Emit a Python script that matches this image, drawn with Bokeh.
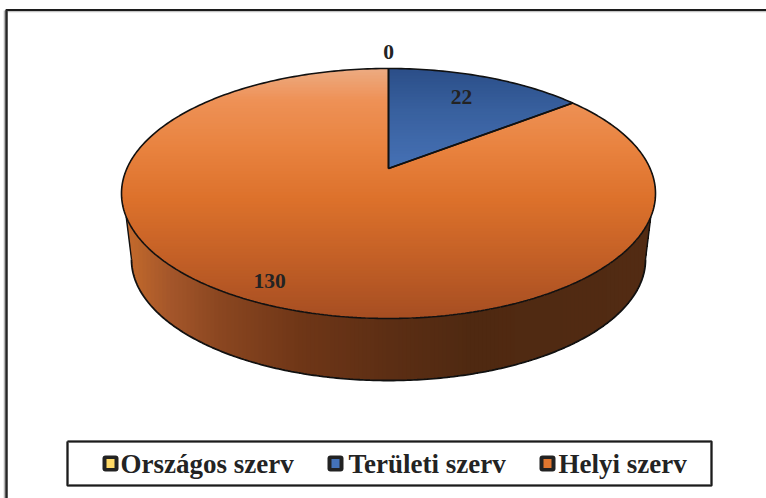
import numpy as np
from bokeh.plotting import figure
from bokeh.models import Range1d
from bokeh.core.properties import value
from bokeh.embed import file_html
from bokeh.resources import INLINE

categories = ["Országos szerv", "Területi szerv", "Helyi szerv"]
values = [0, 22, 130]
labels = ["0", "22", "130"]

# layout / style
CX, CY, RX, RY = 388.0, 193.0, 267.0, 125.0     # top ellipse
AX, AY = 388.0, 168.0                            # apex of the slices
BCY, BRX, BRY = 259.0, 257.0, 121.0              # bottom ellipse
K = 0.742                                        # perspective squeeze of angles
label_xy = [(388, 51), (461, 96), (269, 280)]
legend_marker_x = [110, 335, 547]
legend_text_x = [120, 348, 558]
legend_swatch = ["#FFD966", "#4472B8", "#E0762F"]
INK = "#111111"
TEXT = "#232323"
W, H = 766, 498


def hex2rgb(h):
    return np.array([int(h[i:i + 2], 16) for i in (1, 3, 5)], float)


def ramp(t, stops):
    pos = [s[0] for s in stops]
    cols = np.array([hex2rgb(s[1]) for s in stops])
    c = [np.interp(t, pos, cols[:, i]) for i in range(3)]
    return "#%02x%02x%02x" % tuple(int(round(v)) for v in c)


def clip(poly, axis, limit):
    """Keep the part of a polygon with coord[axis] >= limit."""
    out = []
    n = len(poly)
    for i in range(n):
        a, b = poly[i], poly[(i + 1) % n]
        ia, ib = a[axis] >= limit, b[axis] >= limit
        if ia:
            out.append(a)
        if ia != ib:
            t = (limit - a[axis]) / (b[axis] - a[axis])
            out.append((a[0] + t * (b[0] - a[0]), a[1] + t * (b[1] - a[1])))
    return out


def add_bands(p, poly, axis, start, stop, step, stops):
    xs, ys, cs = [], [], []
    for v in np.arange(start, stop, step):
        c = clip(poly, axis, v)
        if len(c) < 3:
            continue
        xs.append([q[0] for q in c])
        ys.append([q[1] for q in c])
        cs.append(ramp(v + step / 2, stops))
    p.patches(xs, ys, fill_color=cs, line_color=None)


def phi(theta):
    return np.unwrap(np.arctan2(K * np.sin(theta), np.cos(theta)))


p = figure(width=W, height=H, x_range=Range1d(0, W), y_range=Range1d(H, 0),
           output_backend="svg", toolbar_location=None, min_border=0,
           background_fill_color="white",
           border_fill_color="white", outline_line_color=None)
p.axis.visible = False
p.grid.visible = False

# frame: only top and left are drawn in the reference
p.line([7.5, W], [11, 11], line_color="#c4c4c4", line_width=1.5)
p.line([4, 4], [10, H], line_color="#b5b5b5", line_width=1.5)
p.line([5.5, W], [9.5, 9.5], line_color="#1c1c1c", line_width=2)
p.line([6, 6], [9, H], line_color="#262626", line_width=2.5)

# side wall
t = np.linspace(np.pi * 0.56, np.pi * 1.44, 240)   # clockwise-from-top param along front
top_x = CX + RX * np.sin(t)
top_y = CY - RY * np.cos(t)
t2 = np.linspace(np.pi * 1.5, np.pi * 0.5, 240)
bot_x = CX + BRX * np.sin(t2)
bot_y = BCY - BRY * np.cos(t2)
wall = list(zip(top_x, top_y)) + list(zip(bot_x, bot_y))
wall_stops = [(124, "#C66B2C"), (170, "#A4562A"), (220, "#8A4620"), (300, "#6F3617"),
              (390, "#5C2E14"), (470, "#4F2911"), (650, "#522B13")]
add_bands(p, wall, 0, 122, 656, 4, wall_stops)

# top face
orange_stops = [(68, "#EDAB82"), (100, "#EE9156"), (150, "#E8823E"), (200, "#DC712B"),
                (260, "#C25F26"), (318, "#A64E22")]
blue_stops = [(68, "#2B4E88"), (110, "#38609E"), (168, "#4671B5")]
total = sum(values)
edges = np.cumsum([0] + values) / total * 2 * np.pi
draw_order = [2, 1, 0]
outlines = []
for i in draw_order:
    a0, a1 = edges[i], edges[i + 1]
    if a1 - a0 <= 0:
        continue
    th = np.linspace(a0, a1, 200)
    ph = phi(th)
    if ph[0] < -1e-9:
        ph = ph + 2 * np.pi
    ax = CX + RX * np.sin(ph)
    ay = CY - RY * np.cos(ph)
    poly = [(AX, AY)] + list(zip(ax, ay))
    stops = blue_stops if i == 1 else orange_stops
    add_bands(p, poly, 1, 66, 320, 3, stops)
    outlines.append(([AX, ax[0]], [AY, ay[0]]))
    outlines.append(([AX, ax[-1]], [AY, ay[-1]]))

# outlines
tt = np.linspace(0, 2 * np.pi, 400)
p.line(list(bot_x), list(bot_y), line_color=INK, line_width=1.8)
p.line([top_x[0], bot_x[-1]], [top_y[0], bot_y[-1]], line_color=INK, line_width=1.4)
p.line([top_x[-1], bot_x[0]], [top_y[-1], bot_y[0]], line_color=INK, line_width=1.4)
p.line(CX + RX * np.sin(tt), CY - RY * np.cos(tt), line_color=INK, line_width=1.6)
for xs, ys in outlines:
    p.line(xs, ys, line_color=INK, line_width=1.6)

# value labels
p.text([q[0] for q in label_xy], [q[1] for q in label_xy], text=labels,
       text_font=value("Liberation Serif"), text_font_style="bold", text_font_size="21.5px",
       text_color=TEXT, text_align="center", text_baseline="middle")

# legend
lx = [67, 711, 711, 67, 67]
ly = [441, 441, 485, 485, 441]
p.line(lx, ly, line_color="#8a8a8a", line_width=3)
p.line(lx, ly, line_color="#1c1c1c", line_width=1.6)
my = [463] * 3
p.rect(legend_marker_x, my, width=16, height=16, fill_color="#222222", line_color=None,
       border_radius=3)
p.rect(legend_marker_x, my, width=8, height=9, fill_color=legend_swatch, line_color=None)
p.text(legend_text_x, [463] * 3, text=categories,
       text_font=value("Liberation Serif"), text_font_style="bold", text_font_size="27px",
       text_color=TEXT, text_align="left", text_baseline="middle")

open("out.html", "w").write(file_html(p, INLINE))
